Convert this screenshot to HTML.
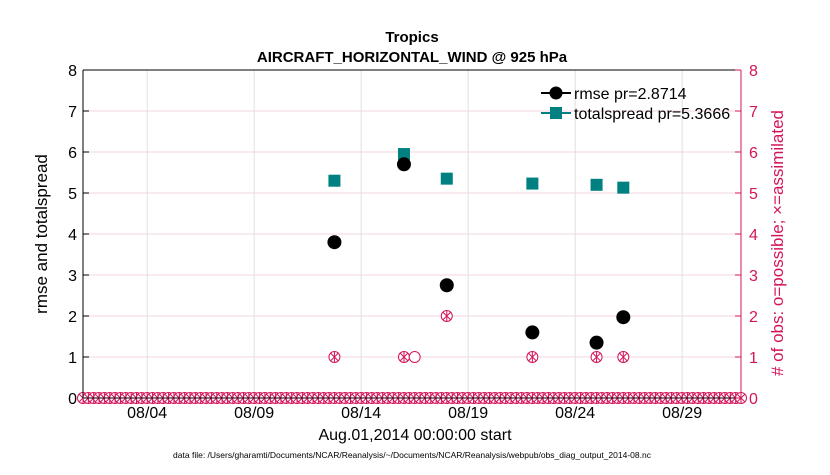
<!DOCTYPE html>
<html><head><meta charset="utf-8"><style>
body{margin:0;background:#fff;}
svg text{font-family:"Liberation Sans",Arial,sans-serif;}
</style></head><body>
<svg id="chart" width="830" height="470" xmlns="http://www.w3.org/2000/svg">
<rect width="830" height="470" fill="#fff"/>
<g id="grid"></g>
<g id="marks"></g>
<g id="axes"></g>
<text x="412" y="42" font-size="15" font-weight="bold" text-anchor="middle">Tropics</text>
<text x="412" y="62" font-size="15" font-weight="bold" text-anchor="middle">AIRCRAFT_HORIZONTAL_WIND @ 925 hPa</text>
<text transform="translate(47,234) rotate(-90)" font-size="17" text-anchor="middle">rmse and totalspread</text>
<text transform="translate(783,243) rotate(-90)" font-size="17" text-anchor="middle" fill="#d4145a"># of obs: o=possible; ×=assimilated</text>
<text x="415" y="440" font-size="16" text-anchor="middle">Aug.01,2014 00:00:00 start</text>
<text x="412" y="458" font-size="8.5" text-anchor="middle">data file: /Users/gharamti/Documents/NCAR/Reanalysis/~/Documents/NCAR/Reanalysis/webpub/obs_diag_output_2014-08.nc</text>
<g>
<line x1="541" y1="93" x2="571" y2="93" stroke="#000" stroke-width="2"/>
<circle cx="556" cy="93" r="6.5" fill="#000"/>
<text x="574" y="99" font-size="16">rmse pr=2.8714</text>
<line x1="541" y1="113" x2="571" y2="113" stroke="#008080" stroke-width="2"/>
<rect x="550" y="107" width="12" height="12" fill="#008080"/>
<text x="574" y="119" font-size="16">totalspread pr=5.3666</text>
</g>
</svg>
<script>
const days=[11.75,15,17,21,24,25.25];
const rmse=[3.8,5.7,2.75,1.6,1.35,1.97];
const spread=[5.3,5.95,5.35,5.23,5.2,5.13];
const obsDays=[11.75,15,15.5,17,21,24,25.25];
const obsPossible=[1,1,1,2,1,1,1];
const obsAssim=[1,1,0,2,1,1,1];
const xTickDays=[3,8,13,18,23,28];
const xTickLabels=["08/04","08/09","08/14","08/19","08/24","08/29"];
const yTicks=[0,1,2,3,4,5,6,7,8];
const X0=83,X1=741,Y0=398,Y1=70,DMAX=30.75;
const x=d=>X0+(X1-X0)*d/DMAX;
const y=v=>Y0-(Y0-Y1)*v/8;
const NS="http://www.w3.org/2000/svg";
function mk(p,t,a){const e=document.createElementNS(NS,t);for(const k in a)e.setAttribute(k,a[k]);p.appendChild(e);return e;}
const grid=document.getElementById('grid'),marks=document.getElementById('marks'),axes=document.getElementById('axes');
mk(grid,'rect',{x:X0,y:Y1,width:X1-X0,height:Y0-Y1,fill:'#fff'});
yTicks.forEach(v=>{if(v>0&&v<8){const l=mk(grid,'line',{x1:X0,x2:X1,y1:y(v),y2:y(v),stroke:'#f3d3e0','stroke-width':1});

}});
xTickDays.forEach(d=>{const l=mk(grid,'line',{x1:x(d),x2:x(d),y1:Y0,y2:Y1,stroke:'#e0e0e0','stroke-width':1});

});
mk(axes,'line',{x1:X0,x2:X1,y1:Y1,y2:Y1,stroke:'#000'});
mk(axes,'line',{x1:X0,x2:X1,y1:Y0,y2:Y0,stroke:'#000'});
mk(axes,'line',{x1:X0,x2:X0,y1:Y0,y2:Y1,stroke:'#000'});
mk(axes,'line',{x1:X1,x2:X1,y1:Y0,y2:Y1,stroke:'#d4145a'});
yTicks.forEach(v=>{
 mk(axes,'line',{x1:X0,x2:X0+6,y1:y(v),y2:y(v),stroke:'#000'});
 mk(axes,'line',{x1:X1-6,x2:X1,y1:y(v),y2:y(v),stroke:'#d4145a'});
 const t=mk(axes,'text',{x:X0-6,y:y(v)+6,'font-size':16,'text-anchor':'end'});t.textContent=v;
 
 
 const t2=mk(axes,'text',{x:X1+8,y:y(v)+6,'font-size':16,fill:'#d4145a'});t2.textContent=v;
 
 
});
xTickDays.forEach((d,i)=>{
 const t=mk(axes,'text',{x:x(d),y:418,'font-size':16,'text-anchor':'middle'});t.textContent=xTickLabels[i];
 
 
});
function star(cx,cy,assim){
 const g=mk(marks,'g',{});
 
 
 mk(g,'circle',{cx,cy,r:5.5,fill:'#fff',stroke:'#d4145a','stroke-width':1});
 if(assim){
  mk(g,'line',{x1:cx-4,y1:cy-4,x2:cx+4,y2:cy+4,stroke:'#d4145a'});
  mk(g,'line',{x1:cx-4,y1:cy+4,x2:cx+4,y2:cy-4,stroke:'#d4145a'});
  mk(g,'line',{x1:cx,y1:cy-5,x2:cx,y2:cy+5,stroke:'#d4145a'});
 }
}
for(let d=0;d<=DMAX;d+=0.25){star(x(d),y(0),true);}
obsDays.forEach((d,i)=>{star(x(d),y(obsPossible[i]),obsAssim[i]>0);});
days.forEach((d,i)=>{
 const r=mk(marks,'rect',{x:x(d)-6,y:y(spread[i])-6,width:12,height:12,fill:'#008080'});
 
 
 const c=mk(marks,'circle',{cx:x(d),cy:y(rmse[i]),r:7,fill:'#000'});
 
 
});
</script>
</body></html>
